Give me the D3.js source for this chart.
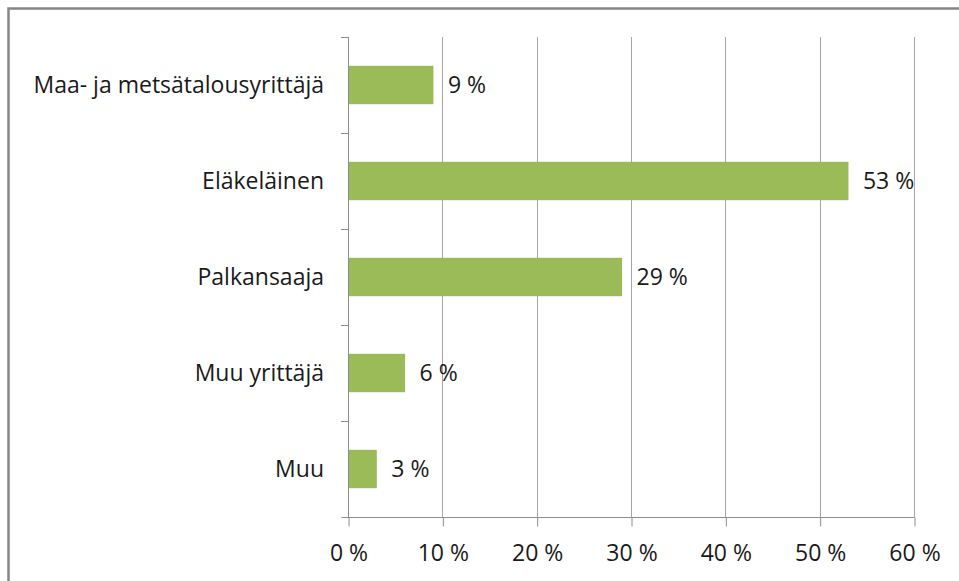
<!DOCTYPE html>
<html>
<head>
<meta charset="utf-8">
<script src="https://cdn.jsdelivr.net/npm/d3@7"></script>
<style>
  body { margin: 0; background: #fff; overflow: hidden; }
  text { font-family: "Open Sans", "Noto Sans", sans-serif; fill: #1a1a1a; }
</style>
</head>
<body>
<svg id="chart" width="959" height="581"></svg>
<script>
const categories = ['Maa- ja metsätalousyrittäjä', 'Eläkeläinen', 'Palkansaaja', 'Muu yrittäjä', 'Muu'];
const values = [9, 53, 29, 6, 3];
const tick_values = [0, 10, 20, 30, 40, 50, 60];

const svg = d3.select('#chart');
const margin = {top: 37, left: 348};
const font_size = 23;

// outer frame (right and bottom edges fall outside the picture)
svg.append('rect')
  .attr('x', 8.5).attr('y', 8.5)
  .attr('width', 1000).attr('height', 1000)
  .attr('fill', 'none')
  .attr('stroke', '#878787')
  .attr('stroke-width', 2.5);

const g = svg.append('g').attr('transform', `translate(${margin.left},${margin.top})`);

const x = d3.scaleLinear().domain([0, 60]).range([0, 566]);
const y = d3.scaleBand().domain(categories).range([0, 480]).paddingInner(0.6).paddingOuter(0.3);

// gridlines
g.selectAll('.grid')
  .data(tick_values.slice(1))
  .enter()
  .append('line')
  .attr('x1', d => Math.round(x(d)) + 0.5)
  .attr('x2', d => Math.round(x(d)) + 0.5)
  .attr('y1', 0).attr('y2', 480)
  .attr('stroke', '#a6a6a6');

// bars
g.selectAll('.bar')
  .data(values)
  .enter()
  .append('rect')
  .attr('x', 0.5)
  .attr('y', (d, i) => y(categories[i]))
  .attr('width', d => x(d))
  .attr('height', y.bandwidth())
  .attr('fill', '#9bbb59');

// value labels
g.selectAll('.val')
  .data(values)
  .enter()
  .append('text')
  .attr('x', d => x(d) + 15)
  .attr('y', (d, i) => y(categories[i]) + y.bandwidth() / 2)
  .attr('dy', '0.35em')
  .attr('font-size', font_size)
  .text(d => d + ' %');

// x axis
const xAxis = d3.axisBottom(x).tickValues(tick_values).tickSize(9).tickFormat(d => d + ' %');
const gx = g.append('g').attr('transform', 'translate(0.5,480.5)').call(xAxis);
gx.select('.domain').attr('stroke', '#8c8c8c').attr('d', 'M-7,0H566');
gx.selectAll('.tick line').attr('stroke', '#8c8c8c');
gx.selectAll('.tick text')
  .attr('y', 27)
  .attr('font-size', font_size)
  .attr('font-family', '"Open Sans", sans-serif')
  .attr('fill', '#1a1a1a');

// y axis with ticks between categories
const step = 480 / categories.length;
g.append('line')
  .attr('x1', 0.5).attr('x2', 0.5)
  .attr('y1', 0).attr('y2', 480)
  .attr('stroke', '#8c8c8c');
g.selectAll('.ytick')
  .data(d3.range(categories.length))
  .enter()
  .append('line')
  .attr('x1', -7).attr('x2', 0)
  .attr('y1', d => Math.round(d * step) + 0.5)
  .attr('y2', d => Math.round(d * step) + 0.5)
  .attr('stroke', '#8c8c8c');

g.selectAll('.cat')
  .data(categories)
  .enter()
  .append('text')
  .attr('x', -24)
  .attr('y', d => y(d) + y.bandwidth() / 2)
  .attr('dy', '0.35em')
  .attr('text-anchor', 'end')
  .attr('font-size', font_size)
  .text(d => d);
</script>
</body>
</html>
